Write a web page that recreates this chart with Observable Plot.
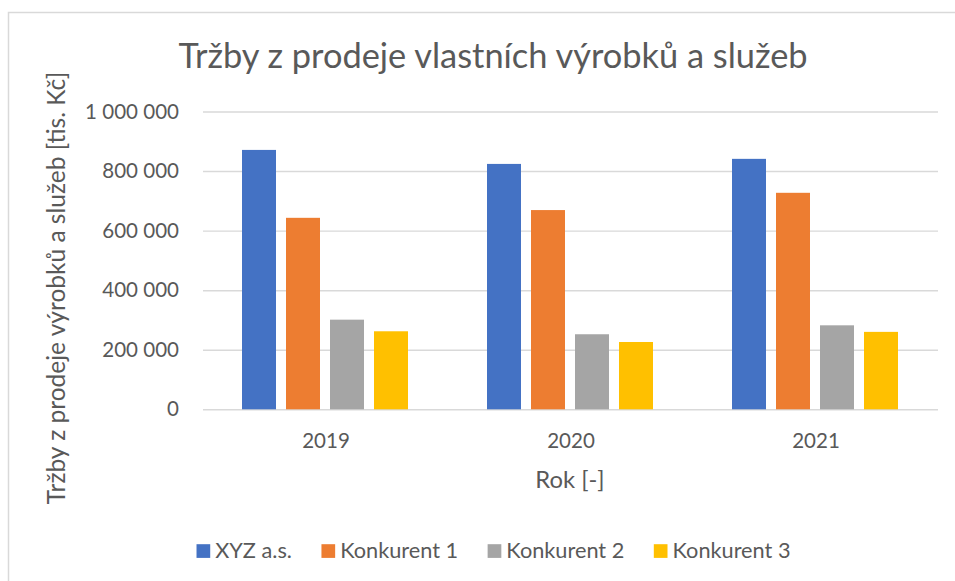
<!DOCTYPE html>
<html>
<head>
<meta charset="utf-8">
<script src="https://cdn.jsdelivr.net/npm/d3@7"></script>
<script src="https://cdn.jsdelivr.net/npm/@observablehq/plot@0.6"></script>
<style>
  html, body { margin: 0; padding: 0; background: #fff; overflow: hidden; }
  #wrap { position: relative; width: 955px; height: 581px; background: #fff; }
  #wrap svg { position: absolute; left: 0; top: 0; }
</style>
</head>
<body>
<div id="wrap"></div>
<script>
// ---- data ----
const years = ["2019", "2020", "2021"];
const series = ["XYZ a.s.", "Konkurent 1", "Konkurent 2", "Konkurent 3"];
const xyz = [871000, 824000, 841000];
const konkurent1 = [643000, 669000, 727000];
const konkurent2 = [301000, 252000, 282000];
const konkurent3 = [262000, 226000, 260000];
const colors = ["#4472C4", "#ED7D31", "#A5A5A5", "#FFC000"];
const yTicks = [0, 200000, 400000, 600000, 800000, 1000000];
const titleText = "Tržby z prodeje vlastních výrobků a služeb";
const yLabelText = "Tržby z prodeje výrobků a služeb [tis. Kč]";
const xLabelText = "Rok [-]";

const seriesValues = [xyz, konkurent1, konkurent2, konkurent3];
const data = years.flatMap((year, i) =>
  series.map((s, j) => ({year, series: s, value: seriesValues[j][i]}))
);

// ---- layout helpers ----
const W = 955, H = 581;
const FAMILY = "Lato";
const FONT = "Lato, 'Liberation Sans', sans-serif";
const TEXT = "#595959";
const ctx = document.createElement("canvas").getContext("2d");
function textW(t, size) { ctx.font = `${size}px ${FAMILY}`; return ctx.measureText(t).width; }
function fit(t, target) { return 100 * target / textW(t, 100); }

const tickSize = fit("1 000 000", 94);
const titleSize = fit(titleText, 632);
const yLabSize = fit(yLabelText, 434);
const xLabSize = fit(xLabelText, 69.3);
const legSize = fit("Konkurent 1", 118);

const fmt = d => d3.format(",")(d).replace(/,/g, " ");

const chart = Plot.plot({
  width: W,
  height: H,
  marginLeft: 202,
  marginRight: 15.5,
  marginTop: 111.5,
  marginBottom: 171.7,
  style: {fontFamily: FONT, fontSize: tickSize + "px", color: TEXT, background: "transparent", overflow: "visible"},
  fx: {domain: years, padding: 0, label: null, axis: "bottom", tickSize: 0, tickPadding: 24},
  x: {domain: series, paddingInner: 0.217, paddingOuter: 0.864, axis: null},
  y: {domain: [0, 1000000], label: null},
  color: {domain: series, range: colors},
  marks: [
    Plot.gridY(yTicks, {stroke: "#d9d9d9", strokeOpacity: 1, strokeWidth: 1.4}),
    Plot.barY(data, {fx: "year", x: "series", y: "value", fill: "series"}),
    Plot.axisY(yTicks, {tickSize: 0, tickPadding: 24.5, tickFormat: fmt, label: null, fill: TEXT})
  ]
});

const wrap = document.getElementById("wrap");
wrap.appendChild(chart);

// ---- overlay: frame, title, axis titles, legend ----
const ov = d3.create("svg")
  .attr("width", W).attr("height", H)
  .style("font-family", FONT)
  .attr("fill", TEXT);

ov.append("path")
  .attr("d", `M8.5,${H} V12.5 H${W}`)
  .attr("fill", "none")
  .attr("stroke", "#d9d9d9")
  .attr("stroke-width", 1.5);

ov.append("text")
  .attr("x", 493)
  .attr("y", 68.3)
  .attr("text-anchor", "middle")
  .style("font-size", titleSize + "px")
  .text(titleText);

ov.append("text")
  .attr("transform", "translate(65,288) rotate(-90)")
  .attr("text-anchor", "middle")
  .style("font-size", yLabSize + "px")
  .text(yLabelText);

ov.append("text")
  .attr("x", 570)
  .attr("y", 488)
  .attr("text-anchor", "middle")
  .style("font-size", xLabSize + "px")
  .text(xLabelText);

// legend
const sw = 13.7, swGap = 5, itemGap = 29.5;
const widths = series.map(s => sw + swGap + textW(s, legSize));
const total = d3.sum(widths) + itemGap * (series.length - 1);
let lx = 493.5 - total / 2;
const leg = ov.append("g");
series.forEach((s, i) => {
  leg.append("rect")
    .attr("x", lx).attr("y", 544.2)
    .attr("width", sw).attr("height", sw)
    .attr("fill", colors[i]);
  leg.append("text")
    .attr("x", lx + sw + swGap)
    .attr("y", 558.3)
    .style("font-size", legSize + "px")
    .text(s);
  lx += widths[i] + itemGap;
});

wrap.appendChild(ov.node());
</script>
</body>
</html>
